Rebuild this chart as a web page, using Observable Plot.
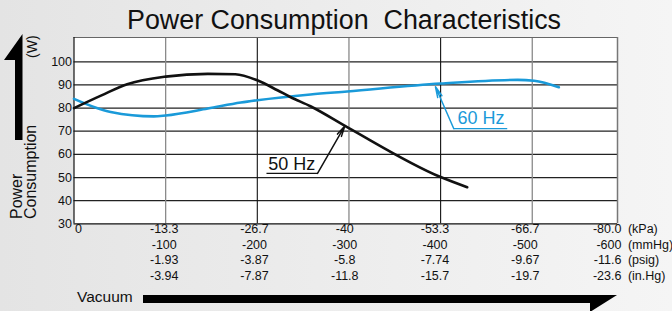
<!DOCTYPE html>
<html><head><meta charset="utf-8">
<script src="https://cdn.jsdelivr.net/npm/d3@7"></script>
<script src="https://cdn.jsdelivr.net/npm/@observablehq/plot@0.6"></script>
<style>
body{margin:0;}
#wrap{position:relative;width:672px;height:311px;background:linear-gradient(to right,#e4e4e4,#f5f5f5);font-family:"Liberation Sans",Arial,Helvetica,sans-serif;overflow:hidden}
#wrap svg{position:absolute;left:0;top:0}
</style></head><body><div id="wrap"></div>
<script>
// ---- data ----
const yTicks = [30, 40, 50, 60, 70, 80, 90, 100];
const xTicks = [0, 100, 200, 300, 400, 500, 600];          // vacuum, mmHg
const kPaLabels  = ["0", "-13.3", "-26.7", "-40", "-53.3", "-66.7", "-80.0"];
const mmHgLabels = ["", "-100", "-200", "-300", "-400", "-500", "-600"];
const psigLabels = ["", "-1.93", "-3.87", "-5.8", "-7.74", "-9.67", "-11.6"];
const inHgLabels = ["", "-3.94", "-7.87", "-11.8", "-15.7", "-19.7", "-23.6"];
const unitLabels = ["(kPa)", "(mmHg)", "(psig)", "(in.Hg)"];
const hz50X = [0, 30, 58, 100, 146, 176, 200, 222, 236, 258, 298, 400, 429];
const hz50Y = [80, 85.5, 90.3, 93.6, 94.8, 94.6, 92.0, 87.7, 84.8, 80.8, 71.8, 50.2, 45.8];
const hz60X = [0, 40, 87, 100, 146, 182, 200, 258, 298, 400, 484, 502, 529];
const hz60Y = [84, 78.3, 76.4, 76.8, 79.8, 82.4, 83.4, 85.9, 87.2, 90.6, 92.2, 91.8, 89];
const seriesNames = ["50 Hz", "60 Hz"];
const seriesColors = ["#111111", "#1a9ad9"];
// annotation anchors (data units)
const notes = [
  {name: "50 Hz", tx: 212, ty: 53.1, ux1: 210, ux2: 265.7, uy: 51.8, ax: 295.5, ay: 72.3},
  {name: "60 Hz", tx: 418.4, ty: 73.0, ux1: 414.4, ux2: 472.7, uy: 71.1, ax: 394.4, ay: 89.2}
];

const xMax = 593, yMin = 30, yMax = 110.5;
const s50 = hz50X.map((x, i) => ({x, y: hz50Y[i]}));
const s60 = hz60X.map((x, i) => ({x, y: hz60Y[i]}));
const rows = [kPaLabels, mmHgLabels, psigLabels, inHgLabels];
const rowDy = [9.2, 24.7, 40.2, 55.7];
const F = 12.5;
const colorOf = d => seriesColors[seriesNames.indexOf(d.name)];

const labelMarks = [];
rows.forEach((labels, r) => {
  xTicks.forEach((t, k) => {
    if (!labels[k]) return;
    const anchor = k === 0 ? "start" : k === 6 ? "end" : "middle";
    const dx = k === 0 ? 1 : k === 6 ? -2.5 : -1.4 * k;
    labelMarks.push(Plot.text([labels[k]], {x: () => t, frameAnchor: "bottom", dy: rowDy[r], dx, textAnchor: anchor, text: d => d, fontSize: F, fill: "#111"}));
  });
  labelMarks.push(Plot.text([unitLabels[r]], {x: () => 600, frameAnchor: "bottom", dy: rowDy[r], dx: 4, textAnchor: "start", text: d => d, fontSize: F, fill: "#111"}));
});

const chart = Plot.plot({
  width: 672, height: 311,
  marginLeft: 73.5, marginRight: 55, marginTop: 37, marginBottom: 87.7,
  style: {background: "transparent", fontFamily: "'Liberation Sans', Arial, sans-serif", overflow: "visible"},
  x: {domain: [0, xMax], axis: null},
  y: {domain: [yMin, yMax], axis: null},
  marks: [
    Plot.frame({fill: "white", stroke: null}),
    Plot.ruleY(yTicks.filter(v => v > yMin), {stroke: "#222", strokeWidth: 1.25}),
    Plot.ruleX([100, 300, 500], {stroke: "#8a8a8a", strokeWidth: 1.3}),
    Plot.ruleX([200, 400], {stroke: "#111", strokeWidth: 1.1}),
    Plot.ruleY([yMax], {stroke: "#666", strokeWidth: 1.2}),
    Plot.ruleX([xMax], {stroke: "#777", strokeWidth: 1.5}),
    Plot.ruleX([0], {stroke: "#111", strokeWidth: 1.2}),
    Plot.ruleY([yMin], {stroke: "#111", strokeWidth: 1.2}),
    Plot.line(s60, {x: "x", y: "y", stroke: seriesColors[1], strokeWidth: 2.6, curve: "monotone-x"}),
    Plot.line(s50, {x: "x", y: "y", stroke: seriesColors[0], strokeWidth: 2.6, curve: "monotone-x"}),
    Plot.text(yTicks, {y: d => d, frameAnchor: "left", dx: -2, textAnchor: "end", text: d => String(d), fontSize: F, fill: "#111"}),
    ...labelMarks,
    // annotations
    Plot.link(notes, {x1: "ux1", x2: "ux2", y1: "uy", y2: "uy", stroke: colorOf, strokeWidth: 1.2}),
    Plot.arrow(notes, {x1: d => d.name === "50 Hz" ? d.ux2 : d.ux1, y1: "uy", x2: "ax", y2: "ay", stroke: colorOf, strokeWidth: 1.5, headLength: 11, headAngle: 24}),
    Plot.text(notes, {x: "tx", y: "ty", text: "name", textAnchor: "start", lineAnchor: "bottom", fontSize: 18, fill: colorOf})
  ]
});
const wrap = document.getElementById("wrap");
wrap.appendChild(chart);

const ns = "http://www.w3.org/2000/svg";
const ov = document.createElementNS(ns, "svg");
ov.setAttribute("width", 672); ov.setAttribute("height", 311);
ov.innerHTML = `
  <text x="344" y="29" text-anchor="middle" font-size="27" fill="#111" font-family="'Liberation Sans', Arial, sans-serif" textLength="434" lengthAdjust="spacingAndGlyphs">Power Consumption&#160; Characteristics</text>
  <polygon points="22.5,34 22.5,140 15,140 15,60 4,60" fill="#000"/>
  <polygon points="143,295 617,295 590,312 590,303 143,303" fill="#000"/>
  <text x="77" y="302" font-size="15.5" fill="#111" font-family="'Liberation Sans', Arial, sans-serif">Vacuum</text>
  <text transform="translate(21.5,219) rotate(-90)" font-size="16" fill="#111" font-family="'Liberation Sans', Arial, sans-serif">Power</text>
  <text transform="translate(36,219) rotate(-90)" font-size="16" fill="#111" font-family="'Liberation Sans', Arial, sans-serif">Consumption</text>
  <text transform="translate(37,58) rotate(-90)" font-size="14" fill="#111" font-family="'Liberation Sans', Arial, sans-serif">(W)</text>
`;
wrap.appendChild(ov);
</script></body></html>
